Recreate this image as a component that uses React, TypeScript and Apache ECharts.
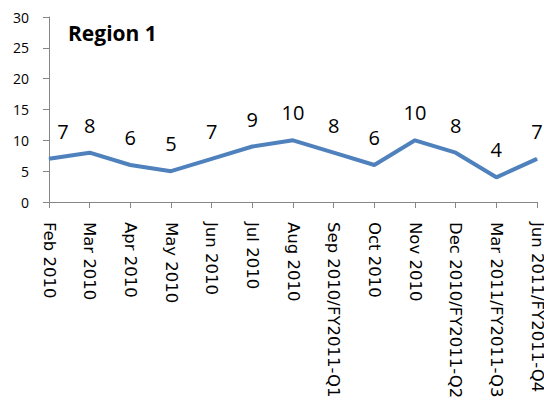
import React, { useEffect, useRef } from "react";
import * as echarts from "echarts";

const categories = [
  "Feb 2010",
  "Mar 2010",
  "Apr 2010",
  "May 2010",
  "Jun 2010",
  "Jul 2010",
  "Aug 2010",
  "Sep 2010/FY2011-Q1",
  "Oct 2010",
  "Nov 2010",
  "Dec 2010/FY2011-Q2",
  "Mar 2011/FY2011-Q3",
  "Jun 2011/FY2011-Q4",
];
const values = [7, 8, 6, 5, 7, 9, 10, 8, 6, 10, 8, 4, 7];
const titleText = "Region 1";

export default function App() {
  const ref = useRef<HTMLDivElement>(null);
  useEffect(() => {
    if (!ref.current) return;
    const chart = echarts.init(ref.current, null, { renderer: "svg" });
    const font = "'Open Sans', sans-serif";
    chart.setOption({
      animation: false,
      backgroundColor: "#ffffff",
      title: {
        text: titleText,
        left: 63,
        top: 17,
        textStyle: { fontFamily: font, fontWeight: "bold", fontSize: 21, color: "#000" },
      },
      grid: {
        left: 49,
        right: 7,
        top: 17,
        bottom: 207,
        containLabel: false,
        outerBoundsMode: "none",
      },
      xAxis: {
        type: "category",
        data: categories,
        boundaryGap: false,
        axisLine: { show: true, lineStyle: { color: "#868686", width: 1 } },
        axisTick: { show: true, alignWithLabel: true, length: 6, lineStyle: { color: "#868686" } },
        axisLabel: {
          rotate: -90,
          interval: 0,
          margin: 20,
          fontFamily: "'DejaVu Sans', sans-serif",
          fontSize: 16.5,
          color: "#000",
          overflow: "none",
          hideOverlap: false,
        },
        splitLine: { show: false },
      },
      yAxis: {
        type: "value",
        min: 0,
        max: 30,
        interval: 5,
        axisLine: { show: true, lineStyle: { color: "#868686", width: 1 } },
        axisTick: { show: true, length: 6, lineStyle: { color: "#868686" } },
        axisLabel: { fontFamily: font, fontSize: 14, color: "#000", margin: 20 },
        splitLine: { show: false },
      },
      series: [
        {
          type: "line",
          data: values.map((v, i) =>
            i === 0 ? { value: v, label: { offset: [14, 0] } } : v
          ),
          symbol: "circle",
          symbolSize: 1,
          showSymbol: true,
          lineStyle: { color: "#4F81BD", width: 4 },
          itemStyle: { color: "#4F81BD" },
          label: {
            show: true,
            position: "top",
            distance: 17,
            fontFamily: font,
            fontSize: 20,
            color: "#000",
          },
        },
      ],
    });
    return () => chart.dispose();
  }, []);
  return <div ref={ref} style={{ width: 544, height: 409, position: "absolute", left: 0, top: 0 }} />;
}
